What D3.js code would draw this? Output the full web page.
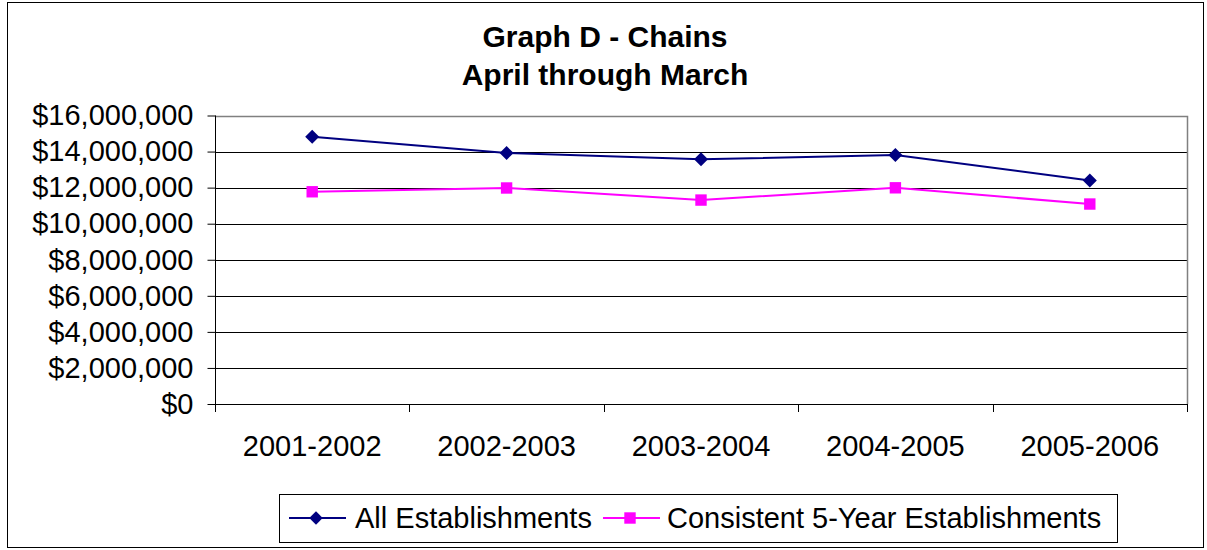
<!DOCTYPE html>
<html lang="en">
<head>
<meta charset="UTF-8">
<title>Graph D - Chains</title>
<script src="https://cdnjs.cloudflare.com/ajax/libs/d3/7.8.5/d3.min.js"></script>
<style>
  body { margin: 0; background: #fff; }
  text { font-family: "Liberation Sans", Arial, sans-serif; fill: #000; }
</style>
</head>
<body>
<div id="chart"></div>
<script>
const years = ['2001-2002', '2002-2003', '2003-2004', '2004-2005', '2005-2006'];
const allEstablishments = [14820000, 13920000, 13570000, 13810000, 12400000];
const consistentEstablishments = [11770000, 11980000, 11310000, 11990000, 11090000];
const yTicks = [0, 2000000, 4000000, 6000000, 8000000, 10000000, 12000000, 14000000, 16000000];
const seriesNames = ['All Establishments', 'Consistent 5-Year Establishments'];

const width = 1207, height = 550;
const m = { left: 215, right: 1187, top: 115.5, bottom: 404 };
const FONT = '"Liberation Sans", Arial, sans-serif';

const svg = d3.select('#chart').append('svg')
  .attr('width', width)
  .attr('height', height);

// outer frame
svg.append('rect')
  .attr('x', 7.5).attr('y', 2.5)
  .attr('width', 1196).attr('height', 545)
  .attr('fill', 'none').attr('stroke', '#000').attr('stroke-width', 1);

svg.append('text').attr('x', 605).attr('y', 47)
  .attr('text-anchor', 'middle').attr('font-size', 30).attr('font-weight', 'bold')
  .text('Graph D - Chains');
svg.append('text').attr('x', 605).attr('y', 85)
  .attr('text-anchor', 'middle').attr('font-size', 30).attr('font-weight', 'bold')
  .text('April through March');

const x = d3.scaleBand().domain(years).range([m.left, m.right]);
const y = d3.scaleLinear().domain([0, 16000000]).range([m.bottom, m.top]);

// gridlines
svg.append('g').selectAll('line')
  .data(yTicks.slice(1, -1))
  .join('line')
  .attr('x1', m.left).attr('x2', m.right)
  .attr('y1', d => Math.round(y(d)) + 0.5).attr('y2', d => Math.round(y(d)) + 0.5)
  .attr('stroke', '#000').attr('stroke-width', 1);

// plot border top + right
svg.append('path')
  .attr('d', `M${m.left},${Math.round(m.top) + 0.5}H${m.right + 0.5}V${m.bottom}`)
  .attr('fill', 'none')
  .attr('stroke', '#808080').attr('stroke-width', 1.5);

const fmt = d => '$' + d3.format(',')(d);

const yAxis = svg.append('g')
  .attr('transform', `translate(${m.left + 0.5},0)`)
  .call(d3.axisLeft(y).tickValues(yTicks).tickFormat(fmt).tickSize(8).tickPadding(14));
yAxis.select('.domain').attr('stroke', '#000').attr('stroke-width', 1)
  .attr('d', `M0,${m.top}V${m.bottom}`);
yAxis.selectAll('text').attr('font-size', 29).attr('font-family', FONT);

const xAxis = svg.append('g')
  .attr('transform', `translate(0,${Math.round(m.bottom) + 0.5})`)
  .call(d3.axisBottom(x).tickSize(0));
xAxis.select('.domain').attr('stroke', '#000').attr('d', `M${m.left},0H${m.right}`);
xAxis.selectAll('text')
  .attr('font-size', 29).attr('font-family', FONT)
  .attr('y', 51).attr('dy', 0);

// category boundary ticks
svg.append('g').selectAll('line')
  .data(years.map(d => x(d)).concat([m.right]))
  .join('line')
  .attr('x1', d => Math.round(d) + 0.5).attr('x2', d => Math.round(d) + 0.5)
  .attr('y1', m.bottom).attr('y2', m.bottom + 8)
  .attr('stroke', '#000');

const cx = d => x(d) + x.bandwidth() / 2;
const line = d3.line().x(d => cx(d.year)).y(d => y(d.value));

// diamond as a square turned 45 degrees (Excel-style, not elongated)
const marker = (shape, size) => shape === 'diamond'
  ? d3.symbol().type(d3.symbolSquare).size(size)()
  : d3.symbol().type(d3.symbolSquare).size(size)();
const rot = shape => shape === 'diamond' ? ' rotate(45)' : '';

const series = [
  { name: seriesNames[0], values: allEstablishments, color: '#000080', shape: 'diamond' },
  { name: seriesNames[1], values: consistentEstablishments, color: '#FF00FF', shape: 'square' }
];

series.forEach(s => {
  const pts = years.map((yr, i) => ({ year: yr, value: s.values[i] }));
  svg.append('path').datum(pts)
    .attr('d', line).attr('fill', 'none')
    .attr('stroke', s.color).attr('stroke-width', 2);
  svg.append('g').selectAll('path')
    .data(pts)
    .join('path')
    .attr('transform', d => `translate(${cx(d.year)},${y(d.value)})` + rot(s.shape))
    .attr('d', marker(s.shape, s.shape === 'diamond' ? 98 : 130))
    .attr('fill', s.color);
});

// legend
const lg = svg.append('g');
lg.append('rect')
  .attr('x', 279.5).attr('y', 494.5).attr('width', 838).attr('height', 48)
  .attr('fill', '#fff').attr('stroke', '#000');
const legendPos = [{ x0: 289, tx: 355 }, { x0: 603, tx: 667 }];
series.forEach((s, i) => {
  const p = legendPos[i];
  lg.append('line')
    .attr('x1', p.x0).attr('x2', p.x0 + 57)
    .attr('y1', 518).attr('y2', 518)
    .attr('stroke', s.color).attr('stroke-width', 2);
  lg.append('path')
    .attr('transform', `translate(${p.x0 + 27},518)` + rot(s.shape))
    .attr('d', marker(s.shape, s.shape === 'diamond' ? 90 : 130))
    .attr('fill', s.color);
  lg.append('text')
    .attr('x', p.tx).attr('y', 528)
    .attr('font-size', 29)
    .text(s.name);
});
</script>
</body>
</html>
